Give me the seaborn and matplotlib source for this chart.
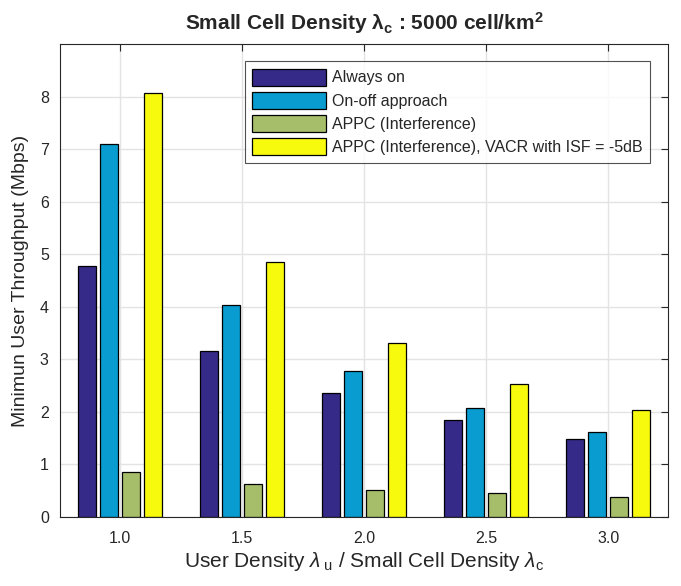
import matplotlib
matplotlib.use("Agg")
import matplotlib.pyplot as plt
import seaborn as sns
import pandas as pd

# User density ratio categories
densities = ["1.0", "1.5", "2.0", "2.5", "3.0"]

# Minimum user throughput (Mbps) per scheme
always_on = [4.78, 3.15, 2.36, 1.84, 1.49]
on_off = [7.09, 4.03, 2.77, 2.08, 1.62]
appc = [0.85, 0.62, 0.51, 0.45, 0.39]
appc_vacr = [8.06, 4.86, 3.31, 2.53, 2.04]

schemes = [
    "Always on",
    "On-off approach",
    "APPC (Interference)",
    "APPC (Interference), VACR with ISF = -5dB",
]
colors = ["#352a87", "#089cd0", "#a6be6a", "#f8fa0d"]

rows = []
for name, vals in zip(schemes, [always_on, on_off, appc, appc_vacr]):
    for d, v in zip(densities, vals):
        rows.append({"density": d, "throughput": v, "scheme": name})
df = pd.DataFrame(rows)

sns.set_style("white")
plt.rcParams["font.family"] = ["Liberation Sans", "DejaVu Sans"]
plt.rcParams["mathtext.fontset"] = "custom"
plt.rcParams["mathtext.rm"] = "Liberation Sans"
plt.rcParams["mathtext.it"] = "Liberation Sans:italic"
plt.rcParams["mathtext.bf"] = "Liberation Sans:bold"

fig = plt.figure(figsize=(6.81, 5.86), dpi=100)
ax = fig.add_axes([0.088, 0.1177, 0.893, 0.8073])

sns.barplot(
    data=df, x="density", y="throughput", hue="scheme",
    hue_order=schemes, palette=colors, width=0.72, gap=0.18,
    edgecolor="black", linewidth=0.9, saturation=1, ax=ax,
)

ax.set_xlim(-0.49, 4.49)
ax.set_ylim(0, 9)
ax.set_yticks(range(0, 9))
ax.grid(True, color="#e3e3e3", linewidth=1.0)
ax.set_axisbelow(True)

for s in ax.spines.values():
    s.set_color("#262626")
    s.set_linewidth(0.8)
ax.tick_params(direction="in", length=5, width=0.8, color="#262626",
               top=True, right=True, labelsize=11.5, colors="#262626")
ax.tick_params(axis="x", pad=10)
ax.tick_params(axis="y", pad=8)

ax.set_xlabel(r"User Density $\lambda_{\ \mathrm{u}}$ / Small Cell Density $\lambda_{\mathrm{c}}$",
              fontsize=15, color="#262626", labelpad=3)
ax.set_ylabel("Minimun User Throughput (Mbps)", fontsize=14, color="#262626", labelpad=8)
ax.set_title(r"Small Cell Density $\mathbf{\lambda}_{\mathbf{c}}$ : 5000 cell/km$^{\mathbf{2}}$",
             fontsize=15, fontweight="bold", pad=10)

handles, labels = ax.get_legend_handles_labels()
leg = ax.legend(handles, labels, loc="upper right", bbox_to_anchor=(0.97, 0.963),
                fontsize=11.5, frameon=True, fancybox=False, edgecolor="#262626",
                handlelength=4.6, handleheight=1.25, labelspacing=0.4,
                handletextpad=0.4, borderpad=0.45, borderaxespad=0)
leg.get_frame().set_linewidth(0.8)

fig.savefig("out.png", dpi=100)
